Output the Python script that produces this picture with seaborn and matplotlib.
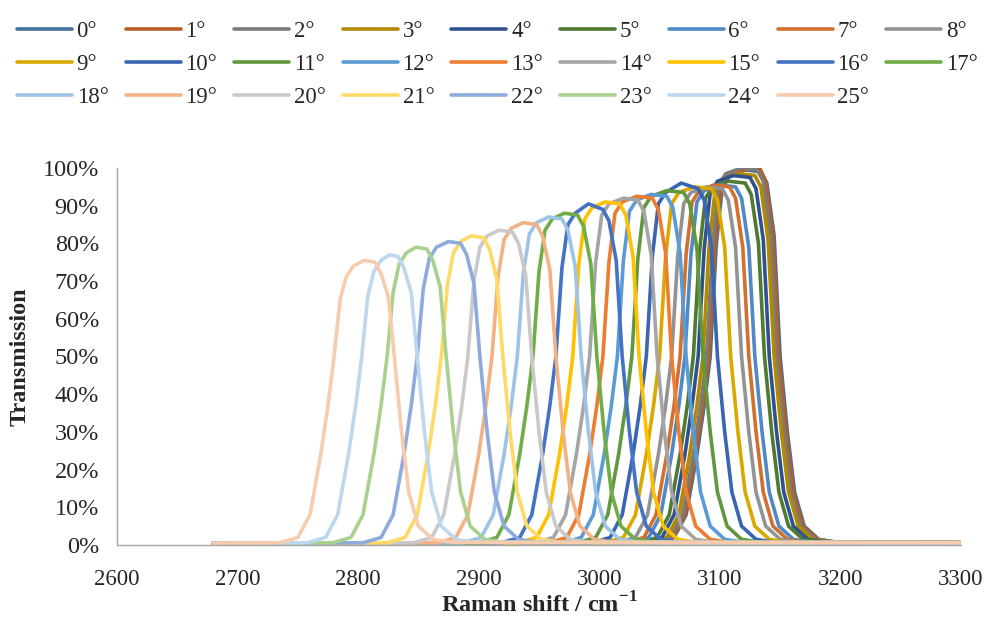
import matplotlib
matplotlib.use("Agg")
import matplotlib.pyplot as plt
from matplotlib.ticker import PercentFormatter, MultipleLocator
import seaborn as sns
import pandas as pd

# Angles du filtre (0° a 25°)
angles = [f"{a}°" for a in range(26)]

# Couleurs (palette Excel, variantes foncees / normales / claires)
colors = [
    "#41719C", "#B35F27", "#7B7B7B", "#B38900", "#2F528F", "#4E7A32",
    "#5089C6", "#D2702F", "#939393", "#DBA800", "#3A65B2", "#61983E",
    "#5B9BD5", "#ED7D31", "#A5A5A5", "#FFC000", "#4472C4", "#70AD47",
    "#9DC3E6", "#F4B183", "#C9C9C9", "#FFD966", "#8FAADC", "#A9D18E",
    "#BDD7EE", "#F8CBAD",
]

# Raman shift (cm-1) des points lus sur chaque courbe
shift = [
    [2680, 3047, 3062, 3072, 3081, 3087, 3092, 3097, 3102, 3108, 3121, 3134, 3139, 3145, 3150, 3156, 3162, 3170, 3182, 3198, 3300],
    [2680, 3046, 3061, 3071, 3080, 3086, 3091, 3096, 3101, 3107, 3120, 3133, 3138, 3144, 3149, 3155, 3161, 3169, 3181, 3197, 3300],
    [2680, 3044, 3059, 3069, 3078, 3084, 3089, 3094, 3099, 3105, 3118, 3131, 3136, 3142, 3147, 3153, 3159, 3167, 3179, 3195, 3300],
    [2680, 3041, 3056, 3066, 3075, 3081, 3086, 3091, 3096, 3102, 3115, 3129, 3134, 3140, 3145, 3151, 3157, 3165, 3177, 3193, 3300],
    [2680, 3037, 3052, 3062, 3071, 3077, 3082, 3087, 3092, 3098, 3111, 3125, 3130, 3136, 3141, 3147, 3153, 3161, 3173, 3189, 3300],
    [2680, 3033, 3048, 3058, 3067, 3073, 3078, 3083, 3088, 3094, 3107, 3121, 3126, 3132, 3137, 3143, 3149, 3157, 3169, 3185, 3300],
    [2680, 3026, 3041, 3051, 3060, 3066, 3071, 3076, 3081, 3087, 3100, 3113, 3118, 3124, 3129, 3135, 3141, 3149, 3161, 3177, 3300],
    [2680, 3022, 3037, 3047, 3056, 3062, 3067, 3072, 3077, 3083, 3095, 3108, 3113, 3119, 3124, 3130, 3136, 3144, 3156, 3172, 3300],
    [2680, 3015, 3030, 3040, 3049, 3055, 3060, 3065, 3070, 3076, 3089, 3102, 3107, 3113, 3118, 3124, 3130, 3138, 3150, 3166, 3300],
    [2680, 3005, 3020, 3030, 3039, 3045, 3050, 3055, 3060, 3066, 3079, 3093, 3098, 3104, 3109, 3115, 3121, 3129, 3141, 3157, 3300],
    [2680, 2994, 3009, 3019, 3028, 3034, 3039, 3044, 3049, 3055, 3068, 3082, 3087, 3093, 3098, 3104, 3110, 3118, 3130, 3146, 3300],
    [2680, 2982, 2997, 3007, 3016, 3022, 3027, 3032, 3037, 3043, 3056, 3070, 3075, 3081, 3086, 3092, 3098, 3106, 3118, 3134, 3300],
    [2680, 2970, 2985, 2995, 3004, 3010, 3015, 3020, 3025, 3031, 3043, 3056, 3061, 3067, 3072, 3078, 3084, 3092, 3104, 3120, 3300],
    [2680, 2958, 2973, 2983, 2992, 2998, 3003, 3008, 3013, 3019, 3031, 3044, 3049, 3055, 3060, 3066, 3072, 3080, 3092, 3108, 3300],
    [2680, 2947, 2962, 2972, 2981, 2987, 2992, 2997, 3002, 3008, 3020, 3032, 3037, 3043, 3048, 3054, 3060, 3068, 3080, 3096, 3300],
    [2680, 2933, 2948, 2958, 2967, 2973, 2978, 2983, 2988, 2994, 3005, 3017, 3022, 3028, 3033, 3039, 3045, 3053, 3065, 3081, 3300],
    [2680, 2919, 2934, 2944, 2953, 2959, 2964, 2969, 2974, 2980, 2991, 3003, 3008, 3014, 3019, 3025, 3031, 3039, 3051, 3067, 3300],
    [2680, 2900, 2915, 2925, 2934, 2940, 2945, 2950, 2955, 2961, 2971, 2982, 2987, 2993, 2998, 3004, 3010, 3018, 3030, 3046, 3300],
    [2680, 2887, 2902, 2912, 2921, 2927, 2932, 2937, 2942, 2948, 2958, 2969, 2974, 2980, 2985, 2991, 2997, 3005, 3017, 3033, 3300],
    [2680, 2866, 2881, 2891, 2900, 2906, 2911, 2916, 2921, 2927, 2937, 2948, 2953, 2959, 2964, 2970, 2976, 2984, 2996, 3012, 3300],
    [2680, 2846, 2861, 2871, 2880, 2886, 2891, 2896, 2901, 2907, 2917, 2928, 2933, 2939, 2944, 2950, 2956, 2964, 2976, 2992, 3300],
    [2680, 2824, 2839, 2849, 2858, 2864, 2869, 2874, 2879, 2885, 2894, 2904, 2909, 2915, 2920, 2926, 2932, 2940, 2952, 2968, 3300],
    [2680, 2804, 2819, 2829, 2838, 2844, 2849, 2854, 2859, 2865, 2875, 2885, 2890, 2896, 2901, 2907, 2913, 2921, 2933, 2949, 3300],
    [2680, 2779, 2794, 2804, 2813, 2819, 2824, 2829, 2834, 2840, 2848, 2857, 2862, 2868, 2873, 2879, 2885, 2893, 2905, 2921, 3300],
    [2680, 2758, 2773, 2783, 2792, 2798, 2803, 2808, 2813, 2819, 2826, 2833, 2838, 2844, 2849, 2855, 2861, 2869, 2881, 2897, 3300],
    [2680, 2735, 2750, 2760, 2769, 2775, 2780, 2785, 2790, 2796, 2805, 2814, 2819, 2825, 2830, 2836, 2842, 2850, 2862, 2878, 3300],
]

# Transmission (%) aux memes points
transmission = [
    [0.4, 0.6, 2, 8, 24, 37, 50, 79.5, 95.0, 98.0, 99.5, 99.0, 96.0, 82.0, 50, 30, 14, 5, 1.5, 0.7, 0.6],
    [0.4, 0.6, 2, 8, 24, 37, 50, 79.5, 95.5, 98.5, 99.5, 100.0, 96.5, 82.0, 50, 30, 14, 5, 1.5, 0.7, 0.6],
    [0.4, 0.6, 2, 8, 24, 37, 50, 79.5, 95.5, 98.5, 100.0, 99.5, 96.5, 82.0, 50, 30, 14, 5, 1.5, 0.7, 0.6],
    [0.4, 0.6, 2, 8, 24, 37, 50, 79.0, 94.0, 97.0, 98.5, 98.0, 95.0, 81.0, 50, 30, 14, 5, 1.5, 0.7, 0.6],
    [0.4, 0.6, 2, 8, 24, 37, 50, 78.5, 93.5, 96.5, 98.0, 97.5, 94.5, 81.0, 50, 30, 14, 5, 1.5, 0.7, 0.6],
    [0.4, 0.6, 2, 8, 24, 37, 50, 77.5, 92.0, 95.0, 96.5, 96.0, 93.0, 80.0, 50, 30, 14, 5, 1.5, 0.7, 0.6],
    [0.4, 0.6, 2, 8, 24, 37, 50, 77.0, 91.0, 94.0, 95.5, 95.0, 92.0, 79.0, 50, 30, 14, 5, 1.5, 0.7, 0.6],
    [0.4, 0.6, 2, 8, 24, 37, 50, 77.0, 91.0, 94.0, 95.5, 95.0, 92.0, 79.0, 50, 30, 14, 5, 1.5, 0.7, 0.6],
    [0.4, 0.6, 2, 8, 24, 37, 50, 76.5, 90.5, 93.5, 95.0, 94.5, 91.5, 79.0, 50, 30, 14, 5, 1.5, 0.7, 0.6],
    [0.4, 0.6, 2, 8, 24, 37, 50, 76.5, 90.5, 93.5, 95.0, 94.5, 91.5, 79.0, 50, 30, 14, 5, 1.5, 0.7, 0.6],
    [0.4, 0.6, 2, 8, 24, 37, 50, 76.5, 90.5, 93.5, 96.0, 94.5, 91.5, 79.0, 50, 30, 14, 5, 1.5, 0.7, 0.6],
    [0.4, 0.6, 2, 8, 24, 37, 50, 76.0, 89.5, 92.5, 94.0, 93.5, 90.5, 78.5, 50, 30, 14, 5, 1.5, 0.7, 0.6],
    [0.4, 0.6, 2, 8, 24, 37, 50, 75.5, 88.5, 91.5, 93.0, 92.5, 89.5, 77.5, 50, 30, 14, 5, 1.5, 0.7, 0.6],
    [0.4, 0.6, 2, 8, 24, 37, 50, 75.0, 88.0, 91.0, 92.5, 92.0, 89.0, 77.5, 50, 30, 14, 5, 1.5, 0.7, 0.6],
    [0.4, 0.6, 2, 8, 24, 37, 50, 75.0, 87.5, 90.5, 92.0, 91.5, 88.5, 77.0, 50, 30, 14, 5, 1.5, 0.7, 0.6],
    [0.4, 0.6, 2, 8, 24, 37, 50, 74.5, 86.5, 89.5, 91.0, 90.5, 87.5, 76.5, 50, 30, 14, 5, 1.5, 0.7, 0.6],
    [0.4, 0.6, 2, 8, 24, 37, 50, 73.5, 85.0, 88.0, 90.5, 89.0, 86.0, 75.5, 50, 30, 14, 5, 1.5, 0.7, 0.6],
    [0.4, 0.6, 2, 8, 24, 37, 50, 72.5, 83.5, 86.5, 88.0, 87.5, 84.5, 74.5, 50, 30, 14, 5, 1.5, 0.7, 0.6],
    [0.4, 0.6, 2, 8, 24, 37, 50, 72.0, 82.5, 85.5, 87.0, 86.5, 83.5, 74.0, 50, 30, 14, 5, 1.5, 0.7, 0.6],
    [0.4, 0.6, 2, 8, 24, 37, 50, 71.0, 81.0, 84.0, 85.5, 85.0, 82.0, 73.0, 50, 30, 14, 5, 1.5, 0.7, 0.6],
    [0.4, 0.6, 2, 8, 24, 37, 50, 70.0, 79.0, 82.0, 83.5, 83.0, 80.0, 71.5, 50, 30, 14, 5, 1.5, 0.7, 0.6],
    [0.4, 0.6, 2, 8, 24, 37, 50, 69.0, 77.5, 80.5, 82.0, 81.5, 78.5, 70.5, 50, 30, 14, 5, 1.5, 0.7, 0.6],
    [0.4, 0.6, 2, 8, 24, 37, 50, 68.0, 76.0, 79.0, 80.5, 80.0, 77.0, 69.5, 50, 30, 14, 5, 1.5, 0.7, 0.6],
    [0.4, 0.6, 2, 8, 24, 37, 50, 67.0, 74.5, 77.5, 79.0, 78.5, 75.5, 68.5, 50, 30, 14, 5, 1.5, 0.7, 0.6],
    [0.4, 0.6, 2, 8, 24, 37, 50, 66.0, 72.5, 75.5, 77.0, 76.5, 73.5, 67.0, 50, 30, 14, 5, 1.5, 0.7, 0.6],
    [0.4, 0.6, 2, 8, 24, 37, 50, 65.0, 71.0, 74.0, 75.5, 75.0, 72.0, 66.0, 50, 30, 14, 5, 1.5, 0.7, 0.6],
]

# Style
sns.set_style("white")
plt.rcParams["font.family"] = ["Liberation Serif", "DejaVu Serif"]
plt.rcParams["mathtext.fontset"] = "custom"
plt.rcParams["mathtext.rm"] = "Liberation Serif"
plt.rcParams["mathtext.bf"] = "Liberation Serif:bold"

FS = 17.5
NCOL = 9

fig = plt.figure(figsize=(9.84, 6.17), dpi=100)
ax = fig.add_axes([117 / 984, 1 - 545 / 617, (961 - 117) / 984, (545 - 168) / 617])

for i, label in enumerate(angles):
    df = pd.DataFrame({"shift": shift[i], "T": transmission[i]})
    sns.lineplot(data=df, x="shift", y="T", ax=ax, color=colors[i], linewidth=2.6,
                 sort=False, estimator=None, label=label, legend=False)

ax.set_xlim(2600, 3300)
ax.set_ylim(0, 100)
ax.xaxis.set_major_locator(MultipleLocator(100))
ax.yaxis.set_major_locator(MultipleLocator(10))
ax.yaxis.set_major_formatter(PercentFormatter(xmax=100, decimals=0))
ax.tick_params(axis="both", length=0)
ax.tick_params(axis="y", pad=13, labelsize=FS)
ax.tick_params(axis="x", pad=17, labelsize=16.5)

for side in ["top", "right"]:
    ax.spines[side].set_visible(False)
for side in ["left", "bottom"]:
    ax.spines[side].set_color("#A6A6A6")
    ax.spines[side].set_linewidth(1.0)

ax.set_xlabel(r"Raman shift / cm$^{\mathbf{-1}}$", fontsize=FS, fontweight="bold", labelpad=2)
ax.set_ylabel("Transmission", fontsize=FS, fontweight="bold", labelpad=9)

# legende remplie ligne par ligne (matplotlib remplit par colonne)
lines = ax.get_lines()
order = [r * NCOL + c for c in range(NCOL) for r in range(3) if r * NCOL + c < len(angles)]
fig.legend([lines[k] for k in order], [angles[k] for k in order], loc="upper left",
           bbox_to_anchor=(17 / 984, 1 - 21 / 617), ncol=NCOL, frameon=False, fontsize=16.5,
           handlelength=2.4, handletextpad=0.2, columnspacing=0.75, labelspacing=0.53,
           borderpad=0, borderaxespad=0)

fig.savefig("out.png", dpi=100)
